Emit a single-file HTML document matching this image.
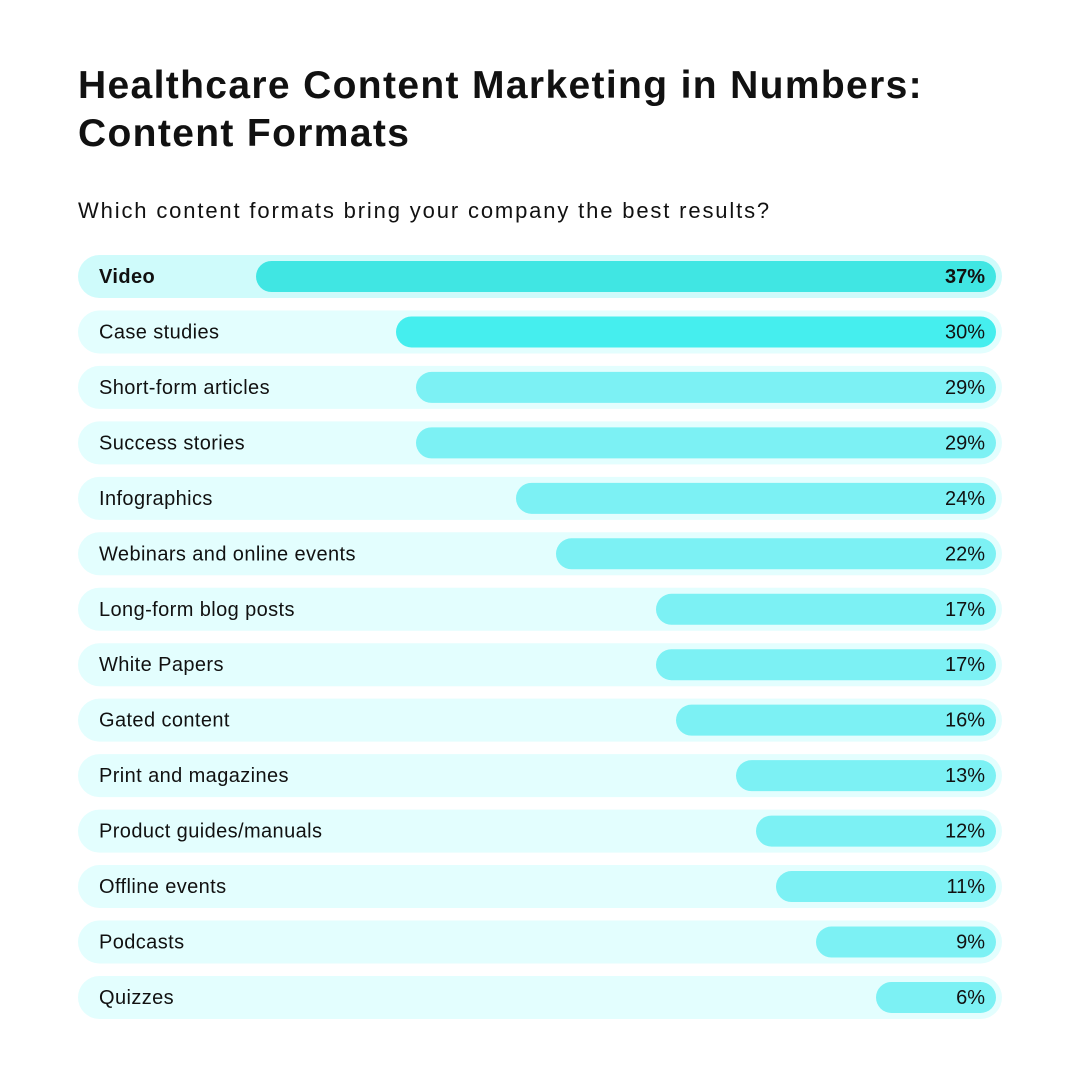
<!DOCTYPE html>
<html><head><meta charset="utf-8"><style>
body{margin:0;width:1080px;height:1080px;background:#fff;font-family:"Liberation Sans",sans-serif;color:#111;overflow:hidden;position:relative}
h1{position:absolute;left:78px;top:62px;margin:0;font-size:39px;line-height:48px;font-weight:bold;letter-spacing:1.35px}
.sub{position:absolute;left:78px;top:198px;font-size:22px;margin:0;letter-spacing:1.85px}
</style></head><body>
<h1>Healthcare Content Marketing in Numbers:<br>Content Formats</h1>
<p class="sub">Which content formats bring your company the best results?</p>
<svg id="chart" width="1080" height="1080" style="position:absolute;left:0;top:0"></svg>
<script>
const categories=["Video","Case studies","Short-form articles","Success stories","Infographics","Webinars and online events","Long-form blog posts","White Papers","Gated content","Print and magazines","Product guides/manuals","Offline events","Podcasts","Quizzes"];
const values=[37,30,29,29,24,22,17,17,16,13,12,11,9,6];
const labels=["37%","30%","29%","29%","24%","22%","17%","17%","16%","13%","12%","11%","9%","6%"];
const svg=document.getElementById('chart');
const NS='http://www.w3.org/2000/svg';
const x=v=>996-v*20;
const y=i=>255+i*55.46;
function mk(t,a){const e=document.createElementNS(NS,t);for(const k in a)e.setAttribute(k,a[k]);svg.appendChild(e);return e;}
categories.forEach((c,i)=>{
  const top=y(i);
  const tr=mk('rect',{x:78,y:top,width:924,height:43,rx:21.5,fill:i==0?'#cffbfb':'#e3fefe'});
  
  
  const b=mk('rect',{x:x(values[i]),y:top+6,width:996-x(values[i]),height:31,rx:15.5,fill:i==0?'#40e6e3':(i==1?'#45eeee':'#7cf1f4')});
  
  
  const t=mk('text',{x:99,y:top+28,'font-size':20,fill:'#111','letter-spacing':0.4,'font-family':'Liberation Sans, sans-serif','font-weight':i==0?'bold':'normal'});
  t.textContent=c;
  
  
  const v=mk('text',{x:985,y:top+28,'font-size':20,fill:'#111','text-anchor':'end','font-family':'Liberation Sans, sans-serif','font-weight':i==0?'bold':'normal'});
  v.textContent=labels[i];
  
  
});
</script>
</body></html>
